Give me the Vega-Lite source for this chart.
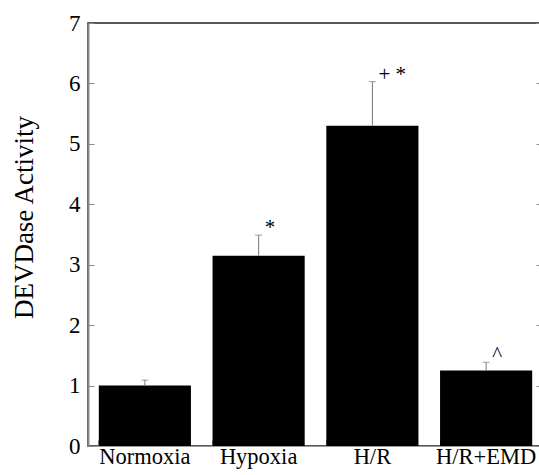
{
  "$schema": "https://vega.github.io/schema/vega-lite/v6.json",
  "autosize": "none",
  "padding": {"left": 88, "top": 23, "right": 0, "bottom": 29},
  "width": 455,
  "height": 423,
  "background": "white",
  "config": {
    "view": {"stroke": "#222", "strokeWidth": 1.5},
    "font": "Liberation Serif"
  },
  "data": {
    "values": [
      {"group": "Normoxia", "mean": 1.0, "upper": 1.09, "sig": ""},
      {"group": "Hypoxia", "mean": 3.15, "upper": 3.49, "sig": "*"},
      {"group": "H/R", "mean": 5.3, "upper": 6.03, "sig": "+ *"},
      {"group": "H/R+EMD", "mean": 1.25, "upper": 1.385, "sig": "^"}
    ]
  },
  "encoding": {
    "x": {
      "field": "group",
      "type": "nominal",
      "sort": null,
      "scale": {"paddingInner": 0.19, "paddingOuter": 0.095},
      "axis": {
        "title": null,
        "labelAngle": 0,
        "labelFont": "Liberation Serif",
        "labelFontSize": 22.5,
        "labelColor": "black",
        "labelPadding": 5,
        "bandPosition": 0,
        "tickSize": -6,
        "tickColor": "#888",
        "domainColor": "#999",
        "domainWidth": 1
      }
    }
  },
  "layer": [
    {
      "mark": {"type": "bar", "color": "black"},
      "encoding": {
        "y": {
          "field": "mean",
          "type": "quantitative",
          "scale": {"domain": [0, 7], "nice": false},
          "axis": {
            "title": "DEVDase Activity",
            "titleFont": "Liberation Serif",
            "titleFontSize": 27,
            "titleFontWeight": "normal",
            "titleColor": "black",
            "titleX": -64,
            "titleY": 194,
            "titleAngle": -90,
            "titleAlign": "center",
            "titleBaseline": "middle",
            "values": [0, 1, 2, 3, 4, 5, 6, 7],
            "labelFont": "Liberation Serif",
            "labelFontSize": 23,
            "labelColor": "black",
            "labelPadding": 14,
            "tickSize": -6,
            "tickColor": "#888",
            "domainColor": "#888",
            "domainWidth": 2,
            "grid": false
          }
        }
      }
    },
    {
      "mark": {"type": "rule", "color": "#777", "strokeWidth": 1},
      "encoding": {
        "y": {
          "field": "mean",
          "type": "quantitative",
          "axis": {
            "orient": "right",
            "title": null,
            "labels": false,
            "domain": false,
            "values": [0, 1, 2, 3, 4, 5, 6, 7],
            "tickSize": -7,
            "tickColor": "#888",
            "grid": false
          }
        },
        "y2": {"field": "upper"}
      }
    },
    {
      "mark": {"type": "tick", "color": "#777", "size": 7, "thickness": 1},
      "encoding": {
        "y": {"field": "upper", "type": "quantitative", "axis": null}
      }
    },
    {
      "mark": {"type": "text", "align": "left", "baseline": "alphabetic", "dx": 6, "dy": -1, "font": "Liberation Serif", "fontSize": 21, "color": "black"},
      "encoding": {
        "y": {"field": "upper", "type": "quantitative", "axis": null},
        "text": {"field": "sig"}
      }
    }
  ],
  "resolve": {"axis": {"y": "independent"}}
}
